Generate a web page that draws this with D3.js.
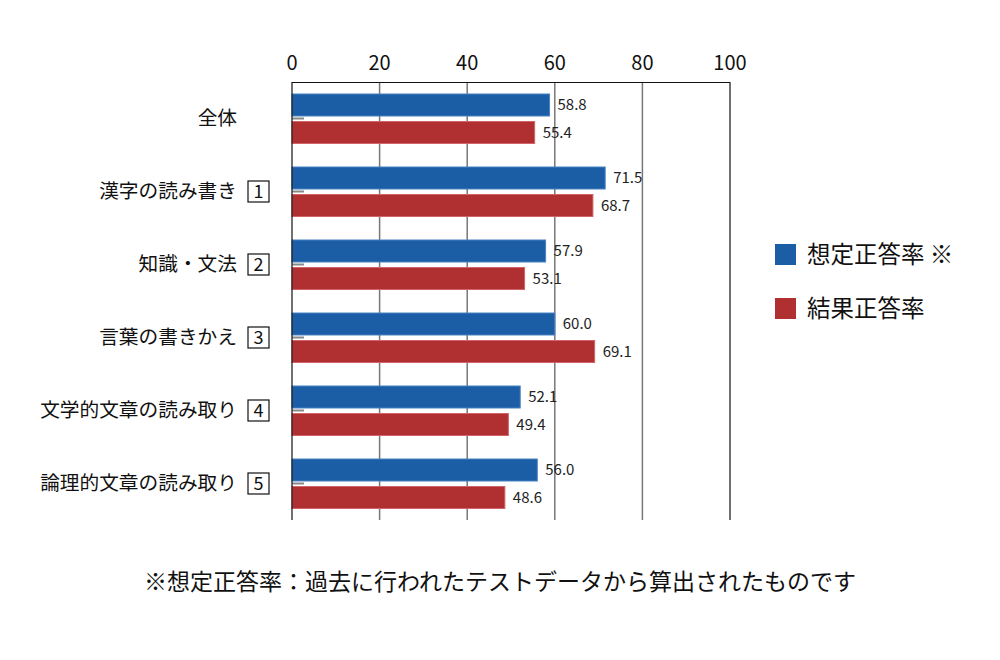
<!DOCTYPE html>
<html>
<head>
<meta charset="utf-8">
<script src="https://cdn.jsdelivr.net/npm/d3@7"></script>
<style>
  body { margin: 0; background: #fff; }
  svg { display: block; font-family: "Noto Sans CJK JP", "Noto Sans", sans-serif; }
</style>
</head>
<body>
<div class="chart"></div>
<script>
const categories = ["全体", "漢字の読み書き", "知識・文法", "言葉の書きかえ", "文学的文章の読み取り", "論理的文章の読み取り"];
const boxNumbers = [null, "1", "2", "3", "4", "5"];
const expected = [58.8, 71.5, 57.9, 60.0, 52.1, 56.0];
const actual = [55.4, 68.7, 53.1, 69.1, 49.4, 48.6];
const seriesNames = ["想定正答率 ※", "結果正答率"];
const xTicks = [0, 20, 40, 60, 80, 100];
const note = "※想定正答率：過去に行われたテストデータから算出されたものです";

const width = 1000, height = 660;
const colors = ["#1b5ea6", "#b03032"];
const strokes = ["#4a82c4", "#d06466"];

const x = d3.scaleLinear().domain([0, 100]).range([292, 730]);
const y = d3.scaleBand().domain(categories).range([82, 520]);
const ySub = d3.scaleBand().domain([0, 1]).range([12, 61.5]).paddingInner(0.2);

const svg = d3.select(".chart").append("svg")
  .attr("width", width)
  .attr("height", height);

// grid lines
svg.append("g")
  .selectAll("line")
  .data(xTicks.filter(d => d > 0 && d < 100))
  .join("line")
    .attr("x1", d => x(d)).attr("x2", d => x(d))
    .attr("y1", 82).attr("y2", 520)
    .attr("stroke", "#777").attr("stroke-width", 1.5);

// frame: top, right
svg.append("line").attr("x1", x(0)).attr("x2", x(100)).attr("y1", 82.5).attr("y2", 82.5)
  .attr("stroke", "#111").attr("stroke-width", 1.2);
svg.append("line").attr("x1", x(100)).attr("x2", x(100)).attr("y1", 82).attr("y2", 520)
  .attr("stroke", "#111").attr("stroke-width", 1.2);

// x tick labels on top
svg.append("g")
  .selectAll("text")
  .data(xTicks)
  .join("text")
    .attr("x", d => x(d))
    .attr("y", 70)
    .attr("text-anchor", "middle")
    .attr("font-size", 20)
    .attr("fill", "#111")
    .text(d => d);

const rows = categories.map((c, i) => ({ cat: c, num: boxNumbers[i], vals: [expected[i], actual[i]] }));

const group = svg.append("g")
  .selectAll("g")
  .data(rows)
  .join("g")
    .attr("transform", d => `translate(0,${y(d.cat)})`);

group.selectAll("rect")
  .data(d => d.vals.map((v, s) => ({ v, s })))
  .join("rect")
    .attr("x", x(0))
    .attr("y", d => ySub(d.s))
    .attr("width", d => x(d.v) - x(0))
    .attr("height", ySub.bandwidth())
    .attr("fill", d => colors[d.s])
    .attr("stroke", d => strokes[d.s])
    .attr("stroke-width", 1);

group.selectAll("text.val")
  .data(d => d.vals.map((v, s) => ({ v, s })))
  .join("text")
    .attr("class", "val")
    .attr("x", d => x(d.v) + 8)
    .attr("y", d => ySub(d.s) + ySub.bandwidth() / 2)
    .attr("dy", "0.35em")
    .attr("font-size", 15)
    .attr("fill", "#222")
    .text(d => d.v.toFixed(1));

// small tick between bars
group.append("line")
  .attr("x1", x(0)).attr("x2", x(0) + 12)
  .attr("y1", 36.5).attr("y2", 36.5)
  .attr("stroke", "#888").attr("stroke-width", 2);

// category labels
group.append("text")
  .attr("x", 237)
  .attr("y", 36.5)
  .attr("dy", "0.35em")
  .attr("text-anchor", "end")
  .attr("font-size", 19.7)
  .attr("fill", "#111")
  .text(d => d.cat);

const boxed = group.filter(d => d.num);
boxed.append("rect")
  .attr("x", 248).attr("y", 26)
  .attr("width", 21).attr("height", 21)
  .attr("fill", "none").attr("stroke", "#111").attr("stroke-width", 1.2);
boxed.append("text")
  .attr("x", 258.5).attr("y", 36.5)
  .attr("dy", "0.36em")
  .attr("text-anchor", "middle")
  .attr("font-size", 18)
  .attr("fill", "#111")
  .text(d => d.num);

// left axis line
svg.append("line").attr("x1", x(0)).attr("x2", x(0)).attr("y1", 82).attr("y2", 520)
  .attr("stroke", "#111").attr("stroke-width", 1.2);

// legend
const legend = svg.append("g")
  .selectAll("g")
  .data(seriesNames)
  .join("g")
    .attr("transform", (d, i) => `translate(775,${244 + i * 54})`);
legend.append("rect")
  .attr("width", 21).attr("height", 21)
  .attr("fill", (d, i) => colors[i]);
legend.append("text")
  .attr("x", 32).attr("y", 10.5)
  .attr("dy", "0.36em")
  .attr("font-size", 23.5)
  .attr("fill", "#111")
  .text(d => d);

// footnote
svg.append("text")
  .attr("x", 500).attr("y", 582)
  .attr("dy", "0.35em")
  .attr("text-anchor", "middle")
  .attr("font-size", 23)
  .attr("fill", "#111")
  .text(note);
</script>
</body>
</html>
